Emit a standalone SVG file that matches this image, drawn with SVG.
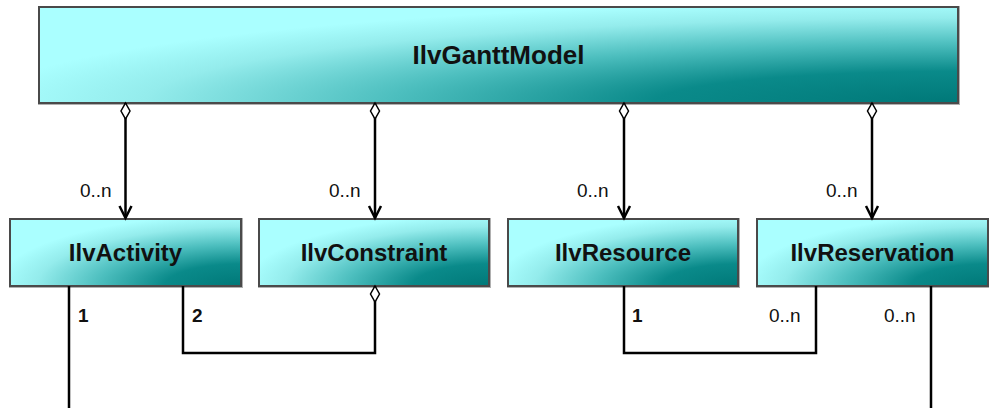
<svg xmlns="http://www.w3.org/2000/svg" width="989" height="408" viewBox="0 0 989 408">
  <defs>
    <radialGradient id="teal" cx="1" cy="1" r="1.18" fx="1" fy="1">
      <stop offset="0" stop-color="#007878"/>
      <stop offset="0.28" stop-color="#0a8a8a"/>
      <stop offset="0.52" stop-color="#4cbebe"/>
      <stop offset="0.75" stop-color="#94ecec"/>
      <stop offset="0.9" stop-color="#aaffff"/>
    </radialGradient>
    <marker id="arrow" markerUnits="userSpaceOnUse" viewBox="-14 -8 16 16" refX="0" refY="0" markerWidth="16" markerHeight="16" orient="auto" overflow="visible">
      <path d="M-12,-6 L0,0 L-12,6" fill="none" stroke="#000" stroke-width="2.5"/>
    </marker>
    <marker id="diamond" markerUnits="userSpaceOnUse" viewBox="-1 -6 18 12" refX="0" refY="0" markerWidth="18" markerHeight="12" orient="auto" overflow="visible">
      <path d="M0,0 L8,-4.5 L16,0 L8,4.5 Z" fill="#fff" stroke="#000" stroke-width="1.5"/>
    </marker>
  </defs>
  <style>
    .box { fill: url(#teal); stroke: #4a4a4a; stroke-width: 2; }
    .shadow { fill: none; stroke: #b0b0b0; stroke-width: 1; }
    .name { font-family: "Liberation Sans", Arial, sans-serif; font-weight: bold; font-size: 24px; fill: #111; text-anchor: middle; }
    .big { font-size: 26px; }
    .mult { font-family: "Liberation Sans", Arial, sans-serif; font-size: 19px; fill: #111; }
    .bold { font-weight: bold; }
    .line { fill: none; stroke: #000; stroke-width: 2.5; }
    .agg { marker-start: url(#diamond); }
    .nav { marker-end: url(#arrow); }
  </style>

  <g id="IlvGanttModel">
    <rect class="shadow" x="38.5" y="6.5" width="921" height="98"/>
    <rect class="box" x="39" y="7" width="919" height="96"/>
    <text class="name big" x="498.5" y="64">IlvGanttModel</text>
  </g>
  <g id="IlvActivity">
    <rect class="shadow" x="9.5" y="218.5" width="233" height="69"/>
    <rect class="box" x="10" y="219" width="231" height="67"/>
    <text class="name" x="125.5" y="261">IlvActivity</text>
  </g>
  <g id="IlvConstraint">
    <rect class="shadow" x="258.5" y="218.5" width="232" height="69"/>
    <rect class="box" x="259" y="219" width="230" height="67"/>
    <text class="name" x="374" y="261">IlvConstraint</text>
  </g>
  <g id="IlvResource">
    <rect class="shadow" x="507.5" y="218.5" width="232" height="69"/>
    <rect class="box" x="508" y="219" width="230" height="67"/>
    <text class="name" x="623" y="261">IlvResource</text>
  </g>
  <g id="IlvReservation">
    <rect class="shadow" x="756.5" y="218.5" width="232" height="69"/>
    <rect class="box" x="757" y="219" width="231" height="67"/>
    <text class="name" x="872.5" y="261">IlvReservation</text>
  </g>

  <g id="connectors">
    <path class="line agg nav" d="M125.5,103 V218"/>
    <path class="line agg nav" d="M375,103 V218"/>
    <path class="line agg nav" d="M624,103 V218"/>
    <path class="line agg nav" d="M872,103 V218"/>
    <path class="line agg" d="M375,286 V353 H183 V286"/>
    <path class="line" d="M624,286 V353 H816 V286"/>
    <path class="line" d="M69,286 V408"/>
    <path class="line" d="M931,286 V408"/>

    <text class="mult" x="80" y="197">0..n</text>
    <text class="mult" x="329" y="197">0..n</text>
    <text class="mult" x="577" y="197">0..n</text>
    <text class="mult" x="826" y="197">0..n</text>
    <text class="mult bold" x="78" y="322">1</text>
    <text class="mult bold" x="192" y="322">2</text>
    <text class="mult bold" x="632" y="322">1</text>
    <text class="mult" x="769" y="322">0..n</text>
    <text class="mult" x="884" y="322">0..n</text>
  </g>
</svg>
